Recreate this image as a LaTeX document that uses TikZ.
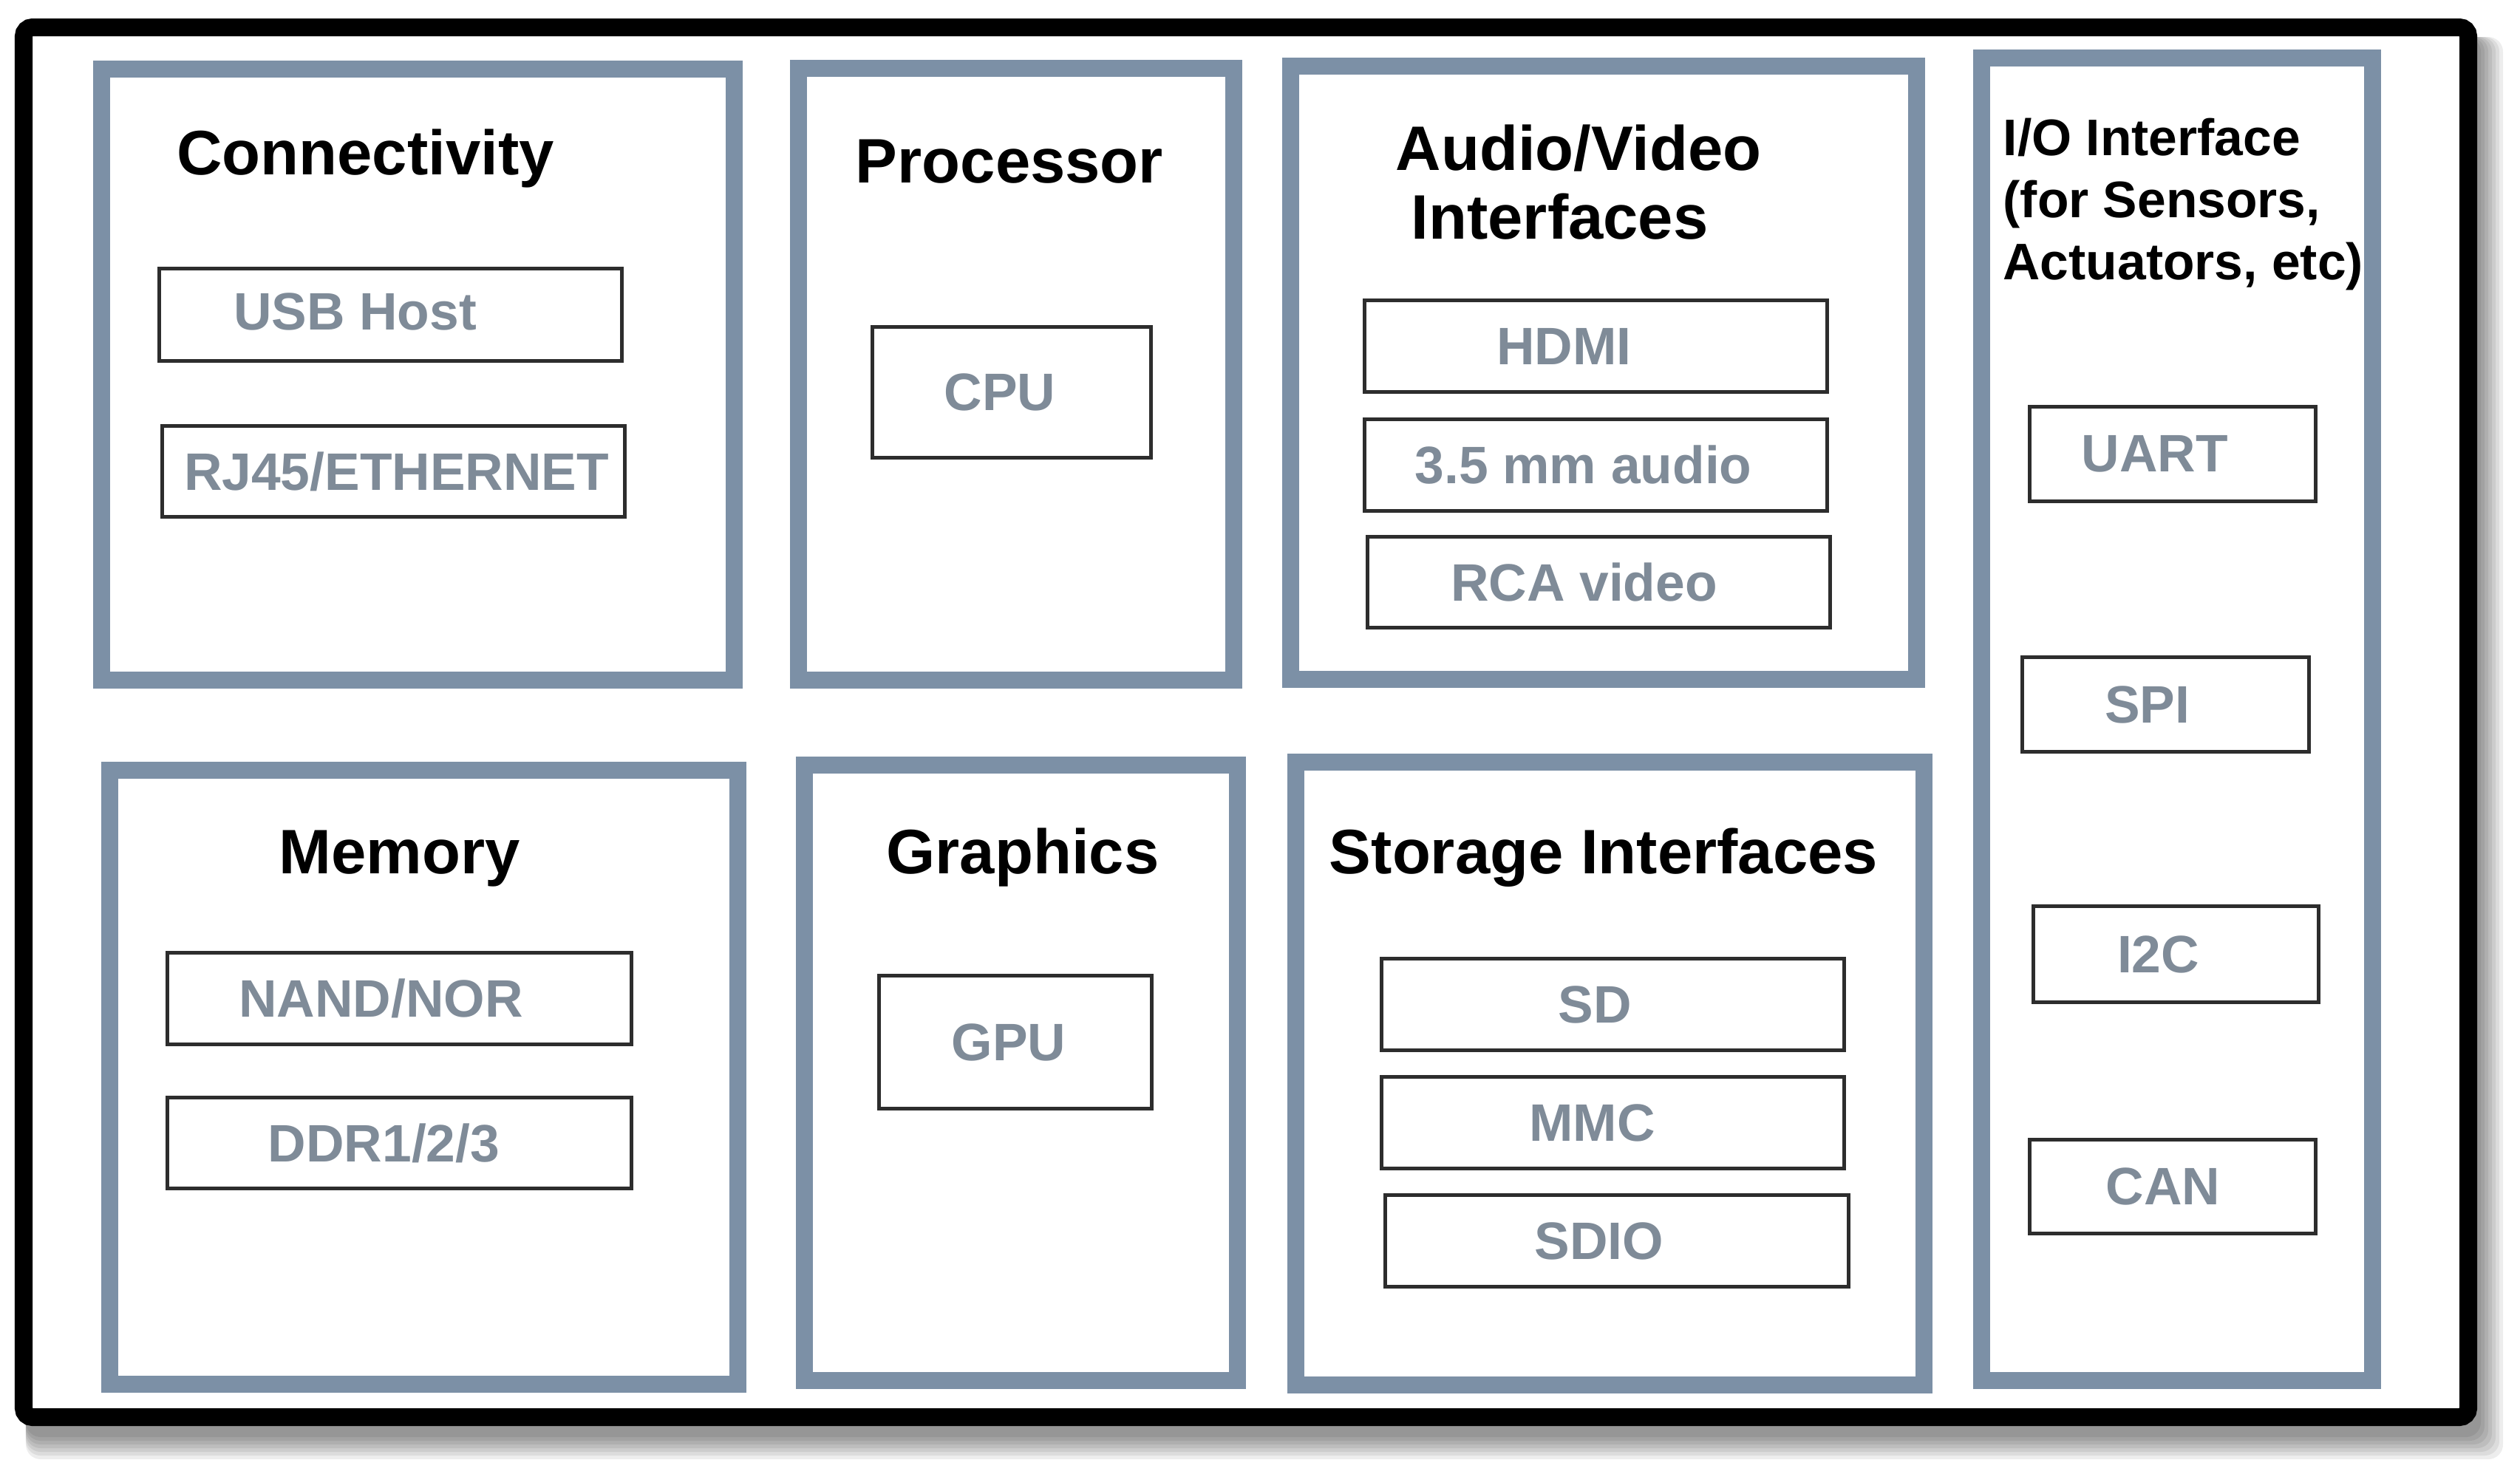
\documentclass[tikz,border=0pt]{standalone}
\usepackage{fontspec}
\setmainfont{Liberation Sans}
\usetikzlibrary{backgrounds}
\definecolor{panelColor}{RGB}{124,144,166}
\definecolor{lblColor}{RGB}{127,139,152}
\definecolor{ifcColor}{RGB}{45,45,45}
\tikzset{
	board/.style={draw=black, fill=white, line width=0.24cm, rounded corners=0.12cm,
		minimum width=33.08cm, minimum height=18.81cm, inner sep=0},
	panel/.style={draw=panelColor, line width=0.23cm, inner sep=0},
	ifc/.style={draw=ifcColor, fill=white, line width=0.05cm, inner sep=0},
	lbl/.style={text=lblColor, inner sep=0, font=\fontsize{20.3}{24}\selectfont\bfseries},
	title/.style={inner sep=0, anchor=base, font=\fontsize{24.2}{26.7}\selectfont\bfseries}
}

\begin{document}
\begin{tikzpicture}[x=1cm, y=-1cm]
	\useasboundingbox (0,0) rectangle (34.10,19.94);
	\node[board] (frame) at (16.86, 9.775) {};
	% the seven blocks
	\node[panel, minimum width=8.56cm, minimum height=8.27cm] (conn) at (5.655, 5.07) {};
	\node[panel, minimum width=5.89cm, minimum height=8.28cm] (proc) at (13.75, 5.065) {};
	\node[panel, minimum width=8.47cm, minimum height=8.30cm] (av) at (21.70, 5.045) {};
	\node[panel, minimum width=5.29cm, minimum height=17.90cm] (io) at (29.46, 9.735) {};
	\node[panel, minimum width=8.50cm, minimum height=8.31cm] (mem) at (5.735, 14.58) {};
	\node[panel, minimum width=5.86cm, minimum height=8.33cm] (gfx) at (13.815, 14.52) {};
	\node[panel, minimum width=8.50cm, minimum height=8.43cm] (stor) at (21.785, 14.53) {};
	% titles
	\node[title] (connT) at (4.945, 2.36) {Connectivity};
	\node[title] (procT) at (13.66, 2.47) {Processor};
	\node[title, anchor=base west] (avT) at (18.88, 2.30) {\begin{tabular}[t]{@{}l@{}} Audio/Video \\ \hspace*{0.21cm}Interfaces \end{tabular}};
	\node[title, anchor=base west, font=\fontsize{19.8}{23.9}\selectfont\bfseries] (ioT) at (27.10, 2.10) {\begin{tabular}[t]{@{}l@{}} I/O Interface \\ (for Sensors, \\ Actuators, etc) \end{tabular}};
	\node[title] (memT) at (5.405, 11.82) {Memory};
	\node[title] (gfxT) at (13.84, 11.82) {Graphics};
	\node[title] (storT) at (21.70, 11.82) {Storage Interfaces};
	% interfaces
	\node[ifc, minimum width=6.26cm, minimum height=1.25cm, label={[lbl, xshift=-0.48cm, yshift=0.04cm]center:USB Host}] (usb) at (5.285, 4.26) {};
	\node[ifc, minimum width=6.26cm, minimum height=1.23cm, label={[lbl, xshift=0.04cm]center:RJ45/ETHERNET}] (rj45) at (5.325, 6.38) {};
	\node[ifc, minimum width=3.77cm, minimum height=1.77cm, label={[lbl, xshift=-0.16cm]center:CPU}] (cpu) at (13.69, 5.31) {};
	\node[ifc, minimum width=6.26cm, minimum height=1.24cm, label={[lbl, xshift=-0.43cm]center:HDMI}] (hdmi) at (21.595, 4.685) {};
	\node[ifc, minimum width=6.26cm, minimum height=1.24cm, label={[lbl, xshift=-0.17cm]center:3.5 mm audio}] (audio) at (21.595, 6.295) {};
	\node[ifc, minimum width=6.26cm, minimum height=1.23cm, label={[lbl, xshift=-0.20cm]center:RCA video}] (rca) at (21.635, 7.88) {};
	\node[ifc, minimum width=3.87cm, minimum height=1.28cm, label={[lbl, xshift=-0.24cm]center:UART}] (uart) at (29.40, 6.145) {};
	\node[ifc, minimum width=3.88cm, minimum height=1.28cm, label={[lbl, xshift=-0.25cm]center:SPI}] (spi) at (29.305, 9.535) {};
	\node[ifc, minimum width=3.86cm, minimum height=1.30cm, label={[lbl, xshift=-0.24cm]center:I2C}] (i2c) at (29.445, 12.915) {};
	\node[ifc, minimum width=3.87cm, minimum height=1.27cm, label={[lbl, xshift=-0.13cm]center:CAN}] (can) at (29.40, 16.06) {};
	\node[ifc, minimum width=6.28cm, minimum height=1.24cm, label={[lbl, xshift=-0.25cm]center:NAND/NOR}] (nand) at (5.405, 13.515) {};
	\node[ifc, minimum width=6.28cm, minimum height=1.23cm, label={[lbl, xshift=-0.21cm]center:DDR1/2/3}] (ddr) at (5.405, 15.47) {};
	\node[ifc, minimum width=3.69cm, minimum height=1.80cm, label={[lbl, xshift=-0.09cm]center:GPU}] (gpu) at (13.74, 14.105) {};
	\node[ifc, minimum width=6.26cm, minimum height=1.24cm, label={[lbl, xshift=-0.24cm]center:SD}] (sd) at (21.825, 13.595) {};
	\node[ifc, minimum width=6.26cm, minimum height=1.24cm, label={[lbl, xshift=-0.28cm]center:MMC}] (mmc) at (21.825, 15.195) {};
	\node[ifc, minimum width=6.27cm, minimum height=1.24cm, label={[lbl, xshift=-0.24cm]center:SDIO}] (sdio) at (21.88, 16.795) {};
	% page and shadow behind the board
	\begin{scope}[on background layer]
		\fill[white] (0,0) rectangle (34.10,19.94);
		\foreach \k in {1,...,7}
			\fill[black, opacity=0.07, rounded corners=0.2cm] ([shift={(0.15,0.25)}]frame.north west) rectangle ([shift={(0.05*\k,0.10+0.05*\k)}]frame.south east);
	\end{scope}
\end{tikzpicture}
\end{document}
